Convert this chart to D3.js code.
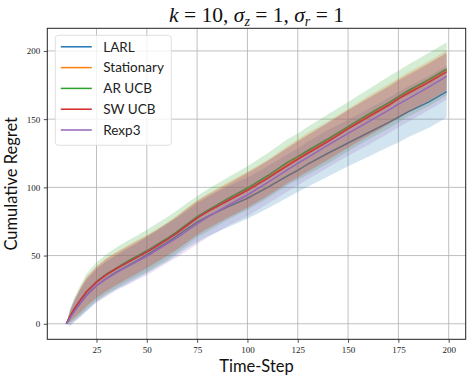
<!DOCTYPE html>
<html>
<head>
<meta charset="utf-8">
<script src="https://cdn.jsdelivr.net/npm/d3@7"></script>
<style>
  body { margin: 0; background: #fff; }
  .tick text { font-family: "Liberation Serif", "DejaVu Serif", serif; font-size: 9px; fill: #222; }
</style>
</head>
<body>
<div class="chart"></div>
<script>
var svgWidth = 473;
var svgHeight = 382;

var margin = { top: 28.3, right: 7.3, bottom: 42.7, left: 47.3 };
var width = svgWidth - margin.left - margin.right;
var height = svgHeight - margin.top - margin.bottom;

// data
var timeSteps = [10, 12, 14, 17, 20, 25, 30, 35, 40, 45, 50, 55, 60, 65, 70, 75, 80, 90, 100, 110, 120, 125, 130, 140, 150, 160, 170, 175, 180, 190, 199];

var seriesNames = ["LARL", "Stationary", "AR UCB", "SW UCB", "Rexp3"];
var seriesColors = ["#1f77b4", "#ff7f0e", "#2ca02c", "#d62728", "#9467bd"];

var larlMean = [0, 5, 9.5, 15.5, 21, 28, 33.5, 38, 42, 46, 50.5, 55, 59.5, 64.5, 69.5, 74.5, 78.5, 85.5, 92, 100, 108.5, 112.5, 117, 125, 132.5, 140, 147.5, 151.4, 155.5, 162.5, 170.2];
var stationaryMean = [0, 5.5, 10.5, 17, 23, 30.5, 36, 40.5, 45, 49, 53, 57.5, 62, 67, 72.5, 78, 82.5, 90.5, 98.5, 107, 117, 121.5, 126, 134.5, 143.5, 152.5, 161, 165.5, 170, 178, 186];
var arUcbMean = [0, 6, 11, 17.5, 23.5, 31, 36.5, 41, 45.5, 49.5, 53.5, 58, 62.5, 67.5, 73, 78.5, 83, 91.5, 99.5, 108.5, 118.5, 122.5, 127, 135.5, 144.5, 153.5, 162, 166.5, 171, 179, 186.8];
var swUcbMean = [0, 6, 11, 17.5, 23.5, 30.5, 36, 40.5, 44.5, 48.5, 52.5, 57, 61.5, 66.5, 72, 77.5, 82, 90, 97.8, 106.5, 116, 120.5, 125, 133.5, 142.8, 151.5, 160, 164.8, 169, 177, 184.6];
var rexp3Mean = [0, 4.5, 9, 15, 20.5, 28, 33, 37.5, 41.5, 45.5, 49.5, 54, 58.5, 63, 68, 73.2, 78, 86.5, 94.4, 103.5, 113, 117.5, 122, 131, 139.6, 148, 156.5, 161, 165, 173.5, 181.4];

var larlStd = [0, 6.6, 8, 10, 11.5, 12, 12.5, 12.5, 13, 13, 13.5, 13.5, 14, 14, 14, 14.5, 14.5, 15, 15, 15.5, 16, 16, 16.5, 17, 17, 17.5, 18, 18.5, 18.5, 19, 19];
var stationaryStd = [0, 4, 6.5, 9, 10.5, 11.5, 12, 12, 12, 12, 12, 12, 12, 12.5, 12.5, 12.5, 12.5, 13, 13, 13, 13.5, 13.5, 14, 14, 14, 14.5, 14.5, 14.5, 14.5, 14.5, 14.5];
var arUcbStd = [0, 5, 8, 11, 13, 14, 14.5, 15, 15, 15, 15.5, 15.5, 15.5, 15.5, 15.5, 15, 15.5, 15.5, 16, 16.5, 17, 17, 17.5, 18, 18, 18.5, 19, 19, 19, 19.5, 19.5];
var swUcbStd = [0, 4, 6.5, 9, 10.5, 11.5, 12, 12, 12, 12, 12, 12, 12, 12, 12.5, 12.5, 12.5, 12.5, 13, 13, 13, 13.5, 13.5, 13.5, 14, 14, 14, 14, 14, 14, 14];
var rexp3Std = [0, 5, 7.5, 10, 11.5, 12.5, 13, 13, 13.5, 13.5, 14, 14, 14, 14.5, 14.5, 15, 15, 15, 15.5, 15.5, 16, 16, 16, 16.5, 16.5, 17, 17, 17, 17, 17, 17];

var meanSets = [larlMean, stationaryMean, arUcbMean, swUcbMean, rexp3Mean];
var stdSets = [larlStd, stationaryStd, arUcbStd, swUcbStd, rexp3Std];

var xTicks = [25, 50, 75, 100, 125, 150, 175, 200];
var yTicks = [0, 50, 100, 150, 200];

var svg = d3.select(".chart")
  .append("svg")
  .attr("width", svgWidth)
  .attr("height", svgHeight);

var chartGroup = svg.append("g")
  .attr("transform", `translate(${margin.left}, ${margin.top})`);

var xScale = d3.scaleLinear().domain([0.55, 208.45]).range([0, width]);
var yScale = d3.scaleLinear().domain([-11.4, 216.6]).range([height, 0]);

// grid
chartGroup.append("g")
  .selectAll("line.vgrid")
  .data(xTicks)
  .enter()
  .append("line")
  .attr("x1", d => xScale(d)).attr("x2", d => xScale(d))
  .attr("y1", 0).attr("y2", height)
  .attr("stroke", "#b0b0b0").attr("stroke-width", 0.8);

chartGroup.append("g")
  .selectAll("line.hgrid")
  .data(yTicks)
  .enter()
  .append("line")
  .attr("x1", 0).attr("x2", width)
  .attr("y1", d => yScale(d)).attr("y2", d => yScale(d))
  .attr("stroke", "#b0b0b0").attr("stroke-width", 0.8);

var area = d3.area()
  .x((d, i) => xScale(timeSteps[i]))
  .y0(d => yScale(d[0] - d[1]))
  .y1(d => yScale(d[0] + d[1]));

var line = d3.line()
  .x((d, i) => xScale(timeSteps[i]))
  .y(d => yScale(d));

seriesNames.forEach(function(name, k) {
  var pts = meanSets[k].map((m, i) => [m, stdSets[k][i]]);
  chartGroup.append("path")
    .datum(pts)
    .attr("d", area)
    .attr("fill", seriesColors[k])
    .attr("fill-opacity", 0.2);
  chartGroup.append("path")
    .datum(meanSets[k])
    .attr("d", line)
    .attr("fill", "none")
    .attr("stroke", seriesColors[k])
    .attr("stroke-width", 1.5);
});

// axes
var bottomAxis = d3.axisBottom(xScale).tickValues(xTicks).tickSize(3.5).tickPadding(3.5);
var leftAxis = d3.axisLeft(yScale).tickValues(yTicks).tickSize(3.5).tickPadding(3.5);

var xg = chartGroup.append("g")
  .attr("transform", `translate(0, ${height})`)
  .call(bottomAxis);
var yg = chartGroup.append("g")
  .call(leftAxis);
xg.select(".domain").remove();
yg.select(".domain").remove();
svg.selectAll(".tick line").attr("stroke", "#222").attr("stroke-width", 0.8);

chartGroup.append("rect")
  .attr("width", width)
  .attr("height", height)
  .attr("fill", "none")
  .attr("stroke", "#222")
  .attr("stroke-width", 1);

// legend
var legend = chartGroup.append("g")
  .attr("transform", "translate(8, 7)");

legend.append("rect")
  .attr("width", 116)
  .attr("height", 110)
  .attr("rx", 3)
  .attr("fill", "#fff")
  .attr("fill-opacity", 0.8)
  .attr("stroke", "#d8d8d8")
  .attr("stroke-width", 0.8);

var items = legend.selectAll("g.item")
  .data(seriesNames)
  .enter()
  .append("g")
  .attr("transform", (d, i) => `translate(0, ${11.5 + i * 20.8})`);

items.append("line")
  .attr("x1", 5.5).attr("x2", 36.5)
  .attr("stroke", (d, i) => seriesColors[i])
  .attr("stroke-width", 1.5);

items.append("text")
  .attr("x", 48)
  .attr("dy", "0.36em")
  .attr("font-family", "Lato, 'DejaVu Sans', sans-serif")
  .attr("font-size", 13.5)
  .attr("fill", "#222")
  .text(d => d);

// labels
svg.append("text")
  .attr("x", margin.left + width / 2)
  .attr("y", 22)
  .attr("text-anchor", "middle")
  .attr("font-family", "'Liberation Serif', 'DejaVu Serif', serif")
  .attr("font-size", 21.5)
  .attr("fill", "#111")
  .html('<tspan font-style="italic">k</tspan> = 10, <tspan font-style="italic">σ</tspan><tspan font-style="italic" font-size="14" dy="4">z</tspan><tspan dy="-4"> = 1, </tspan><tspan font-style="italic">σ</tspan><tspan font-style="italic" font-size="14" dy="4">r</tspan><tspan dy="-4"> = 1</tspan>');

svg.append("text")
  .attr("x", margin.left + width / 2)
  .attr("y", 372)
  .attr("text-anchor", "middle")
  .attr("font-family", "Lato, 'DejaVu Sans', sans-serif")
  .attr("font-size", 16.5)
  .attr("fill", "#111")
  .text("Time-Step");

svg.append("text")
  .attr("transform", `translate(17, ${margin.top + height / 2}) rotate(-90)`)
  .attr("text-anchor", "middle")
  .attr("font-family", "Lato, 'DejaVu Sans', sans-serif")
  .attr("font-size", 16.5)
  .attr("fill", "#111")
  .text("Cumulative Regret");
</script>
</body>
</html>
